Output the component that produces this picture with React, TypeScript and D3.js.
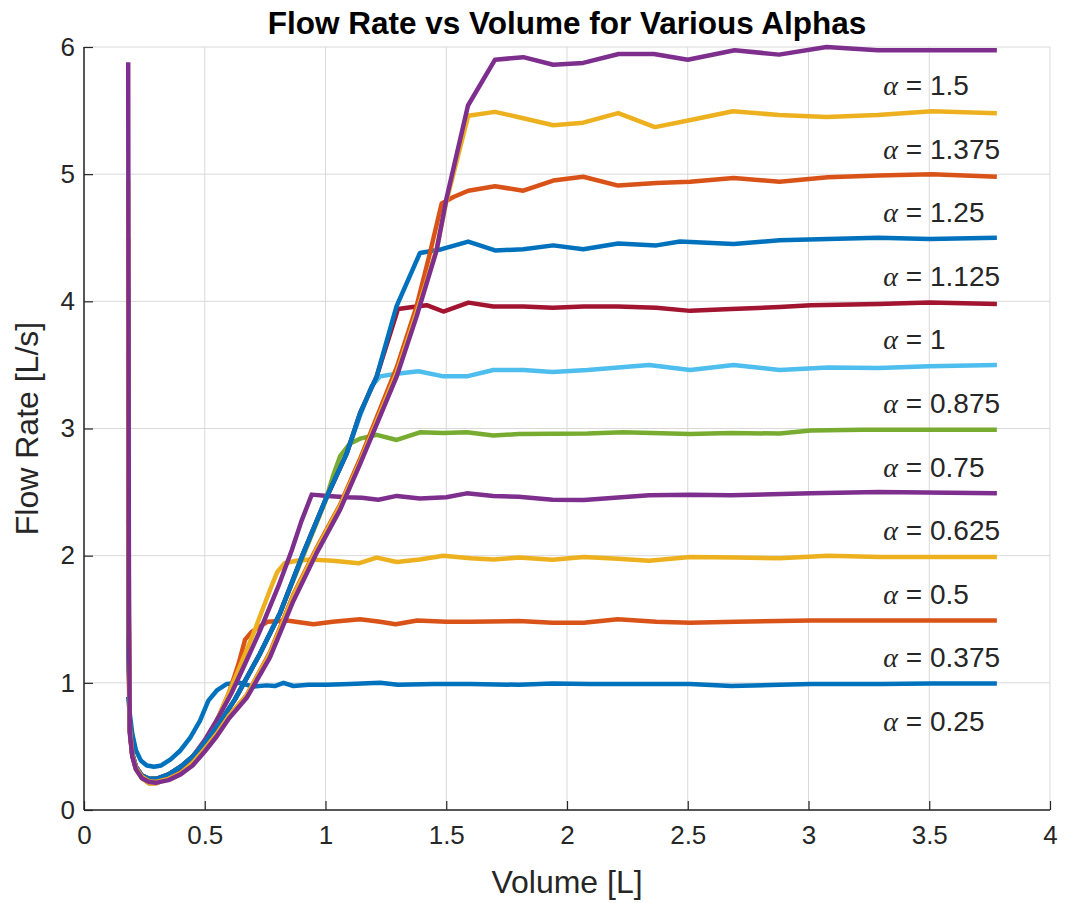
import React, { useEffect, useRef } from 'react';
import * as d3 from 'd3';

type Pt = [number, number];

// alpha values and the flow level each run settles to
const alphas = ['0.25', '0.375', '0.5', '0.625', '0.75', '0.875', '1', '1.125', '1.25', '1.375', '1.5'];
const levels = [1, 1.5, 2, 2.5, 3, 3.5, 4, 4.5, 5, 5.5, 6];
const xTicks = [0, 0.5, 1, 1.5, 2, 2.5, 3, 3.5, 4];
const yTicks = [0, 1, 2, 3, 4, 5, 6];

// [volume, flow] samples
const flow025: Pt[] = [
  [0.183, 0.89], [0.19, 0.75], [0.2, 0.6], [0.215, 0.47], [0.235, 0.39], [0.26, 0.35], [0.29, 0.34],
  [0.32, 0.35], [0.36, 0.4], [0.4, 0.47], [0.44, 0.57], [0.48, 0.7], [0.515, 0.86], [0.55, 0.94],
  [0.59, 0.99], [0.646, 1.0], [0.7, 0.97], [0.756, 0.98], [0.79, 0.975], [0.826, 1.0], [0.867, 0.975],
  [0.93, 0.985], [1.005, 0.985], [1.1, 0.99], [1.226, 1.0], [1.3, 0.985], [1.45, 0.99], [1.6, 0.99],
  [1.8, 0.985], [1.94, 0.995], [2.1, 0.99], [2.3, 0.99], [2.51, 0.99], [2.68, 0.975], [2.88, 0.985],
  [3.01, 0.99], [3.3, 0.99], [3.5, 0.995], [3.78, 0.995],
];
const flow0375: Pt[] = [
  [0.183, 1.35], [0.186, 1.0], [0.19, 0.62], [0.2, 0.43], [0.215, 0.32], [0.24, 0.25], [0.27, 0.21],
  [0.3, 0.21], [0.35, 0.25], [0.4, 0.31], [0.45, 0.4], [0.5, 0.53], [0.55, 0.7], [0.6, 0.92],
  [0.64, 1.15], [0.667, 1.34], [0.694, 1.4], [0.742, 1.46], [0.76, 1.48], [0.84, 1.49], [0.95, 1.46],
  [1.03, 1.48], [1.143, 1.5], [1.226, 1.48], [1.29, 1.46], [1.38, 1.49], [1.5, 1.48], [1.6, 1.48],
  [1.8, 1.486], [1.94, 1.473], [2.07, 1.473], [2.21, 1.5], [2.37, 1.48], [2.51, 1.473], [2.7, 1.48],
  [3.01, 1.49], [3.3, 1.49], [3.78, 1.49],
];
const flow05: Pt[] = [
  [0.183, 1.84], [0.186, 1.2], [0.19, 0.62], [0.2, 0.43], [0.215, 0.32], [0.24, 0.25], [0.27, 0.21],
  [0.3, 0.21], [0.35, 0.25], [0.4, 0.31], [0.45, 0.4], [0.5, 0.53], [0.55, 0.7], [0.6, 0.92],
  [0.65, 1.15], [0.7, 1.38], [0.77, 1.73], [0.8, 1.87], [0.83, 1.94], [0.88, 1.96], [0.936, 1.97],
  [1.03, 1.96], [1.137, 1.94], [1.212, 1.985], [1.295, 1.95], [1.39, 1.97], [1.488, 2.0], [1.6, 1.98],
  [1.695, 1.97], [1.8, 1.985], [1.94, 1.967], [2.07, 1.99], [2.21, 1.975], [2.34, 1.96], [2.51, 1.99],
  [2.7, 1.985], [2.88, 1.98], [3.08, 2.0], [3.3, 1.99], [3.78, 1.99],
];
const flow0625: Pt[] = [
  [0.183, 2.3], [0.186, 1.2], [0.19, 0.63], [0.2, 0.44], [0.215, 0.34], [0.24, 0.27], [0.27, 0.24],
  [0.3, 0.235], [0.35, 0.27], [0.4, 0.33], [0.45, 0.42], [0.5, 0.55], [0.56, 0.74], [0.611, 0.92],
  [0.667, 1.15], [0.729, 1.41], [0.805, 1.76], [0.86, 2.04], [0.9, 2.27], [0.943, 2.48], [1.01, 2.47],
  [1.088, 2.46], [1.15, 2.455], [1.219, 2.44], [1.295, 2.47], [1.391, 2.45], [1.5, 2.46], [1.585, 2.49],
  [1.695, 2.47], [1.8, 2.463], [1.94, 2.44], [2.07, 2.437], [2.34, 2.475], [2.51, 2.48], [2.68, 2.475],
  [3.01, 2.49], [3.29, 2.5], [3.78, 2.49],
];
const flow075: Pt[] = [
  [0.183, 2.65], [0.186, 1.2], [0.19, 0.63], [0.2, 0.44], [0.215, 0.34], [0.24, 0.27], [0.27, 0.245],
  [0.3, 0.245], [0.35, 0.28], [0.4, 0.34], [0.45, 0.42], [0.5, 0.53], [0.56, 0.68], [0.625, 0.87],
  [0.729, 1.23], [0.812, 1.55], [0.908, 2.0], [1.0, 2.43], [1.03, 2.62], [1.06, 2.78], [1.1, 2.88],
  [1.143, 2.92], [1.212, 2.95], [1.295, 2.91], [1.391, 2.97], [1.488, 2.965], [1.585, 2.97], [1.695, 2.945],
  [1.8, 2.956], [2.085, 2.96], [2.23, 2.97], [2.51, 2.956], [2.68, 2.965], [2.88, 2.96], [3.01, 2.985],
  [3.22, 2.99], [3.78, 2.99],
];
const flow0875: Pt[] = [
  [0.183, 3.2], [0.186, 1.2], [0.19, 0.63], [0.2, 0.44], [0.215, 0.34], [0.24, 0.27], [0.27, 0.245],
  [0.3, 0.245], [0.35, 0.28], [0.4, 0.34], [0.45, 0.42], [0.5, 0.53], [0.56, 0.68], [0.625, 0.87],
  [0.729, 1.23], [0.812, 1.55], [0.908, 2.02], [1.0, 2.44], [1.087, 2.8], [1.143, 3.1], [1.19, 3.33],
  [1.226, 3.41], [1.295, 3.43], [1.385, 3.45], [1.488, 3.41], [1.585, 3.41], [1.695, 3.46], [1.819, 3.46],
  [1.94, 3.445], [2.085, 3.46], [2.34, 3.5], [2.51, 3.46], [2.69, 3.5], [2.88, 3.46], [3.08, 3.48],
  [3.29, 3.475], [3.5, 3.49], [3.78, 3.5],
];
const flow1: Pt[] = [
  [0.183, 3.6], [0.186, 1.2], [0.19, 0.63], [0.2, 0.44], [0.215, 0.34], [0.24, 0.27], [0.27, 0.245],
  [0.3, 0.245], [0.35, 0.28], [0.4, 0.34], [0.45, 0.42], [0.5, 0.53], [0.56, 0.68], [0.625, 0.87],
  [0.729, 1.23], [0.812, 1.55], [0.908, 2.02], [1.0, 2.44], [1.087, 2.8], [1.143, 3.12], [1.212, 3.41],
  [1.3, 3.94], [1.377, 3.96], [1.419, 3.97], [1.488, 3.92], [1.592, 3.99], [1.695, 3.96], [1.819, 3.96],
  [1.94, 3.95], [2.07, 3.96], [2.21, 3.96], [2.37, 3.95], [2.51, 3.925], [2.68, 3.94], [2.88, 3.955],
  [3.01, 3.97], [3.29, 3.98], [3.5, 3.99], [3.78, 3.98],
];
const flow1125: Pt[] = [
  [0.183, 4.1], [0.186, 1.2], [0.19, 0.63], [0.2, 0.44], [0.215, 0.34], [0.24, 0.27], [0.27, 0.245],
  [0.3, 0.245], [0.35, 0.28], [0.4, 0.34], [0.45, 0.42], [0.5, 0.53], [0.56, 0.68], [0.625, 0.87],
  [0.729, 1.23], [0.812, 1.55], [0.908, 2.02], [1.0, 2.44], [1.087, 2.8], [1.143, 3.12], [1.212, 3.41],
  [1.294, 3.96], [1.391, 4.38], [1.481, 4.41], [1.591, 4.47], [1.702, 4.4], [1.819, 4.41], [1.943, 4.44],
  [2.067, 4.41], [2.212, 4.455], [2.37, 4.44], [2.468, 4.47], [2.69, 4.45], [2.88, 4.48], [3.08, 4.49],
  [3.29, 4.5], [3.5, 4.49], [3.78, 4.5],
];
const flow125: Pt[] = [
  [0.183, 4.5], [0.186, 1.5], [0.19, 0.62], [0.2, 0.43], [0.215, 0.33], [0.24, 0.26], [0.27, 0.225],
  [0.3, 0.22], [0.35, 0.245], [0.4, 0.29], [0.45, 0.37], [0.5, 0.48], [0.55, 0.6], [0.6, 0.74],
  [0.673, 0.9], [0.77, 1.24], [0.866, 1.69], [0.963, 2.06], [1.06, 2.4], [1.143, 2.76], [1.295, 3.48],
  [1.377, 3.96], [1.43, 4.36], [1.481, 4.77], [1.53, 4.82], [1.591, 4.87], [1.702, 4.905], [1.819, 4.87],
  [1.943, 4.95], [2.067, 4.98], [2.212, 4.91], [2.37, 4.93], [2.51, 4.94], [2.69, 4.97], [2.88, 4.94],
  [3.08, 4.975], [3.29, 4.99], [3.51, 5.0], [3.78, 4.98],
];
const flow1375: Pt[] = [
  [0.183, 4.95], [0.186, 1.5], [0.19, 0.62], [0.2, 0.43], [0.215, 0.33], [0.24, 0.26], [0.27, 0.225],
  [0.3, 0.22], [0.35, 0.245], [0.4, 0.29], [0.45, 0.37], [0.5, 0.48], [0.55, 0.6], [0.6, 0.74],
  [0.673, 0.9], [0.77, 1.23], [0.866, 1.68], [0.963, 2.05], [1.06, 2.39], [1.143, 2.74], [1.295, 3.44],
  [1.377, 3.91], [1.46, 4.41], [1.5, 4.78], [1.591, 5.46], [1.702, 5.49], [1.819, 5.44], [1.943, 5.385],
  [2.067, 5.405], [2.212, 5.48], [2.364, 5.37], [2.497, 5.42], [2.687, 5.495], [2.878, 5.465],
  [3.075, 5.45], [3.286, 5.465], [3.512, 5.495], [3.78, 5.48],
];
const flow15: Pt[] = [
  [0.183, 5.88], [0.186, 1.5], [0.19, 0.6], [0.2, 0.42], [0.215, 0.32], [0.24, 0.25], [0.27, 0.22],
  [0.3, 0.215], [0.35, 0.235], [0.4, 0.28], [0.45, 0.35], [0.5, 0.46], [0.55, 0.58], [0.6, 0.72],
  [0.673, 0.88], [0.77, 1.2], [0.866, 1.64], [0.963, 2.02], [1.06, 2.36], [1.143, 2.72], [1.295, 3.41],
  [1.377, 3.88], [1.46, 4.4], [1.5, 4.8], [1.59, 5.54], [1.702, 5.9], [1.819, 5.92], [1.943, 5.86],
  [2.067, 5.875], [2.214, 5.945], [2.36, 5.945], [2.5, 5.9], [2.694, 5.975], [2.878, 5.94], [3.075, 6.0],
  [3.286, 5.975], [3.5, 5.975], [3.78, 5.975],
];

const series = [flow025, flow0375, flow05, flow0625, flow075, flow0875, flow1, flow1125, flow125, flow1375, flow15];

// MATLAB default colour order, cycling
const palette = ['#0072BD', '#D95319', '#EDB120', '#7E2F8E', '#77AC30', '#4DBEEE', '#A2142F'];

const FlowChart = ({ width = 1069, height = 903 }) => {
  const ref = useRef<SVGSVGElement>(null);

  useEffect(() => {
    const root = d3.select(ref.current);
    root.selectAll('*').remove();

    const margin = { top: 47, right: 19, bottom: 93, left: 84 };
    const w = width - margin.left - margin.right;
    const h = height - margin.top - margin.bottom;
    const font = '"Liberation Sans", Arial, Helvetica, sans-serif';
    const ink = '#262626';

    const svg = root
      .attr('width', width)
      .attr('height', height)
      .append('g')
      .attr('transform', `translate(${margin.left},${margin.top})`);

    const x = d3.scaleLinear().domain([0, 4]).range([0, w]);
    const y = d3.scaleLinear().domain([0, 6]).range([h, 0]);

    // grid
    svg.append('g')
      .selectAll('line')
      .data(xTicks)
      .enter()
      .append('line')
      .attr('x1', d => x(d)).attr('x2', d => x(d))
      .attr('y1', 0).attr('y2', h)
      .attr('stroke', '#d9d9d9').attr('stroke-width', 1);
    svg.append('g')
      .selectAll('line')
      .data(yTicks)
      .enter()
      .append('line')
      .attr('y1', d => y(d)).attr('y2', d => y(d))
      .attr('x1', 0).attr('x2', w)
      .attr('stroke', '#d9d9d9').attr('stroke-width', 1);

    // curves
    const line = d3.line<Pt>().x(d => x(d[0])).y(d => y(d[1]));
    svg.append('g')
      .selectAll('path')
      .data(series)
      .enter()
      .append('path')
      .attr('d', d => line(d))
      .attr('fill', 'none')
      .attr('stroke', (_, i) => palette[i % palette.length])
      .attr('stroke-width', 4.5)
      .attr('stroke-linejoin', 'round')
      .attr('stroke-linecap', 'butt');

    // axes (box off, ticks inward)
    const xAxis = d3.axisBottom(x).tickValues(xTicks).tickSize(-9).tickPadding(16)
      .tickFormat(d => String(d));
    const yAxis = d3.axisLeft(y).tickValues(yTicks).tickSize(-9).tickPadding(9)
      .tickFormat(d => String(d));

    const gx = svg.append('g').attr('transform', `translate(0,${h})`).call(xAxis);
    const gy = svg.append('g').call(yAxis);
    [gx, gy].forEach(g => {
      g.select('.domain').attr('stroke', ink).attr('stroke-width', 1.5);
      g.selectAll('.tick line').attr('stroke', ink).attr('stroke-width', 1.2);
      g.selectAll('.tick text')
        .attr('fill', ink)
        .style('font-family', font)
        .style('font-size', '26px');
    });
    gx.select('.domain').attr('d', `M0,0H${w}`);
    gy.select('.domain').attr('d', `M0,0V${h}`);

    // alpha annotations
    const notes = svg.append('g')
      .selectAll('text')
      .data(alphas)
      .enter()
      .append('text')
      .attr('x', x(3.31))
      .attr('y', (_, i) => y(levels[i] - 0.3))
      .attr('dominant-baseline', 'central')
      .attr('fill', ink)
      .style('font-family', font)
      .style('font-size', '28px');
    notes.append('tspan')
      .style('font-family', '"Liberation Serif", "Times New Roman", serif')
      .style('font-style', 'italic')
      .text('α');
    notes.append('tspan').text(d => ` = ${d}`);

    // title and labels
    root.append('text')
      .attr('x', margin.left + w / 2)
      .attr('y', 34)
      .attr('text-anchor', 'middle')
      .attr('fill', '#000')
      .style('font-family', font)
      .style('font-weight', 'bold')
      .style('font-size', '31.5px')
      .text('Flow Rate vs Volume for Various Alphas');

    root.append('text')
      .attr('x', margin.left + w / 2)
      .attr('y', 893)
      .attr('text-anchor', 'middle')
      .attr('fill', ink)
      .style('font-family', font)
      .style('font-size', '32px')
      .text('Volume [L]');

    root.append('text')
      .attr('transform', `translate(27,${margin.top + h / 2}) rotate(-90)`)
      .attr('text-anchor', 'middle')
      .attr('dominant-baseline', 'central')
      .attr('fill', ink)
      .style('font-family', font)
      .style('font-size', '32px')
      .text('Flow Rate [L/s]');
  }, [width, height]);

  return <svg ref={ref} style={{ position: 'absolute', left: 0, top: 0, background: '#fff' }}></svg>;
};

export default function App() {
  return <FlowChart />;
}
